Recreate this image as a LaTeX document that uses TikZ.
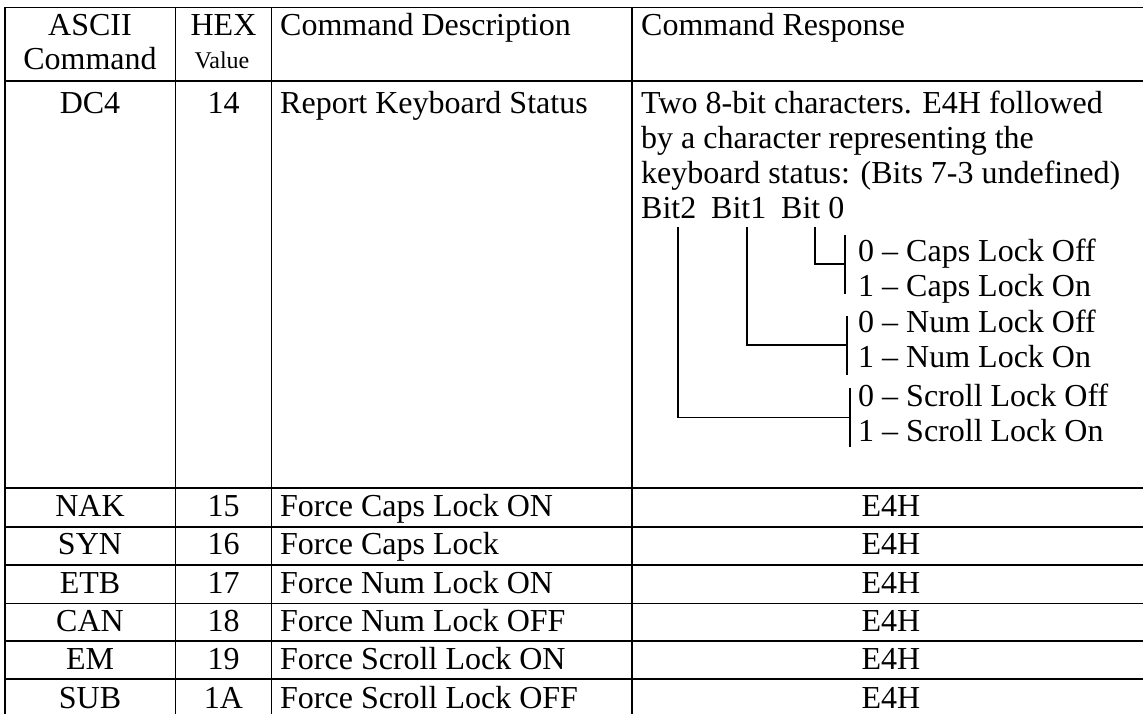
\documentclass[tikz,border=0pt]{standalone}
\usepackage{fontspec}
\setmainfont{Liberation Serif}
\usetikzlibrary{positioning, calc}

\begin{document}
\begin{tikzpicture} [%
    x = 1pt,
    y = -1pt,
    rule/.style = {line width = 1.6pt},
    bitline/.style = {line width = 1.3pt},
    cell/.style = {%
      inner sep = 0pt,
      anchor = base,
      font = \fontsize{32}{35}\selectfont },
    lcell/.style = {cell, anchor = base west},
    smallcell/.style = {cell, font = \fontsize{24}{28}\selectfont}
  ]

  \useasboundingbox (0,0) rectangle (1143,713);
  \clip (0,0) rectangle (1143,713);

  % grid
  \foreach \y in {7.3, 81, 488, 526.7, 565, 603.3, 641, 679}
    \draw[rule] (5,\y) -- (1160,\y);
  \foreach \x in {5, 175.5, 271.5, 632}
    \draw[rule] (\x,7.3) -- (\x,730);

  % header
  \node[cell] (ascii) at (90,35) {ASCII};
  \node[cell] (asciicmd) at (90,69) {Command};
  \node[cell] (hex) at (223.5,35) {HEX};
  \node[smallcell] (hexval) at (222,68) {Value};
  \node[lcell] (desc) at (280,35) {Command Description};
  \node[lcell] (resp) at (641,35) {Command Response};

  % keyboard status row
  \node[cell] (dcfour) at (90,113) {DC4};
  \node[cell] (dchex) at (223.5,113) {14};
  \node[lcell] (dcdesc) at (280,113) {Report Keyboard Status};
  \node[lcell] (respa) at (641,113) {Two 8-bit characters. E4H followed};
  \node[lcell] (respb) at (641,148) {by a character representing the};
  \node[lcell] (respc) at (641,183) {keyboard status: (Bits 7-3 undefined)};
  \node[lcell] (bittwo) at (641,218) {Bit2};
  \node[lcell] (bitone) at (711,218) {Bit1};
  \node[lcell] (bitzero) at (781,218) {Bit 0};

  \node[lcell] (capsoff) at (858,261) {0 -- Caps Lock Off};
  \node[lcell] (capson) at (858,296) {1 -- Caps Lock On};
  \node[lcell] (numoff) at (858,332) {0 -- Num Lock Off};
  \node[lcell] (numon) at (858,367) {1 -- Num Lock On};
  \node[lcell] (scrolloff) at (858,406) {0 -- Scroll Lock Off};
  \node[lcell] (scrollon) at (858,441) {1 -- Scroll Lock On};

  \coordinate (capsbar) at (845,264);
  \coordinate (numbar) at (847,345);
  \coordinate (scrollbar) at (850,417.5);
  \foreach \b in {capsbar, numbar, scrollbar}
    \draw[bitline] (\b) ++(0,-29.5) -- ++(0,59);

  \draw[bitline] ([shift={(34,9)}]bitzero.base west) |- (capsbar);
  \draw[bitline] ([shift={(36,9)}]bitone.base west) |- (numbar);
  \draw[bitline] ([shift={(37,9)}]bittwo.base west) |- (scrollbar);

  % force rows
  \foreach \code/\hex/\what [count=\i from 0] in {%
      NAK/15/Force Caps Lock ON,
      SYN/16/Force Caps Lock,
      ETB/17/Force Num Lock ON,
      CAN/18/Force Num Lock OFF,
      EM/19/Force Scroll Lock ON,
      SUB/1A/Force Scroll Lock OFF} {
    \pgfmathsetmacro\yb{516.5+38.3*\i}
    \node[cell] (code\i) at (90,\yb) {\code};
    \node[cell] (hex\i) at (223.5,\yb) {\hex};
    \node[lcell] (what\i) at (280,\yb) {\what};
    \node[cell] (reply\i) at (891,\yb) {E4H};
  }

\end{tikzpicture}
\end{document}
